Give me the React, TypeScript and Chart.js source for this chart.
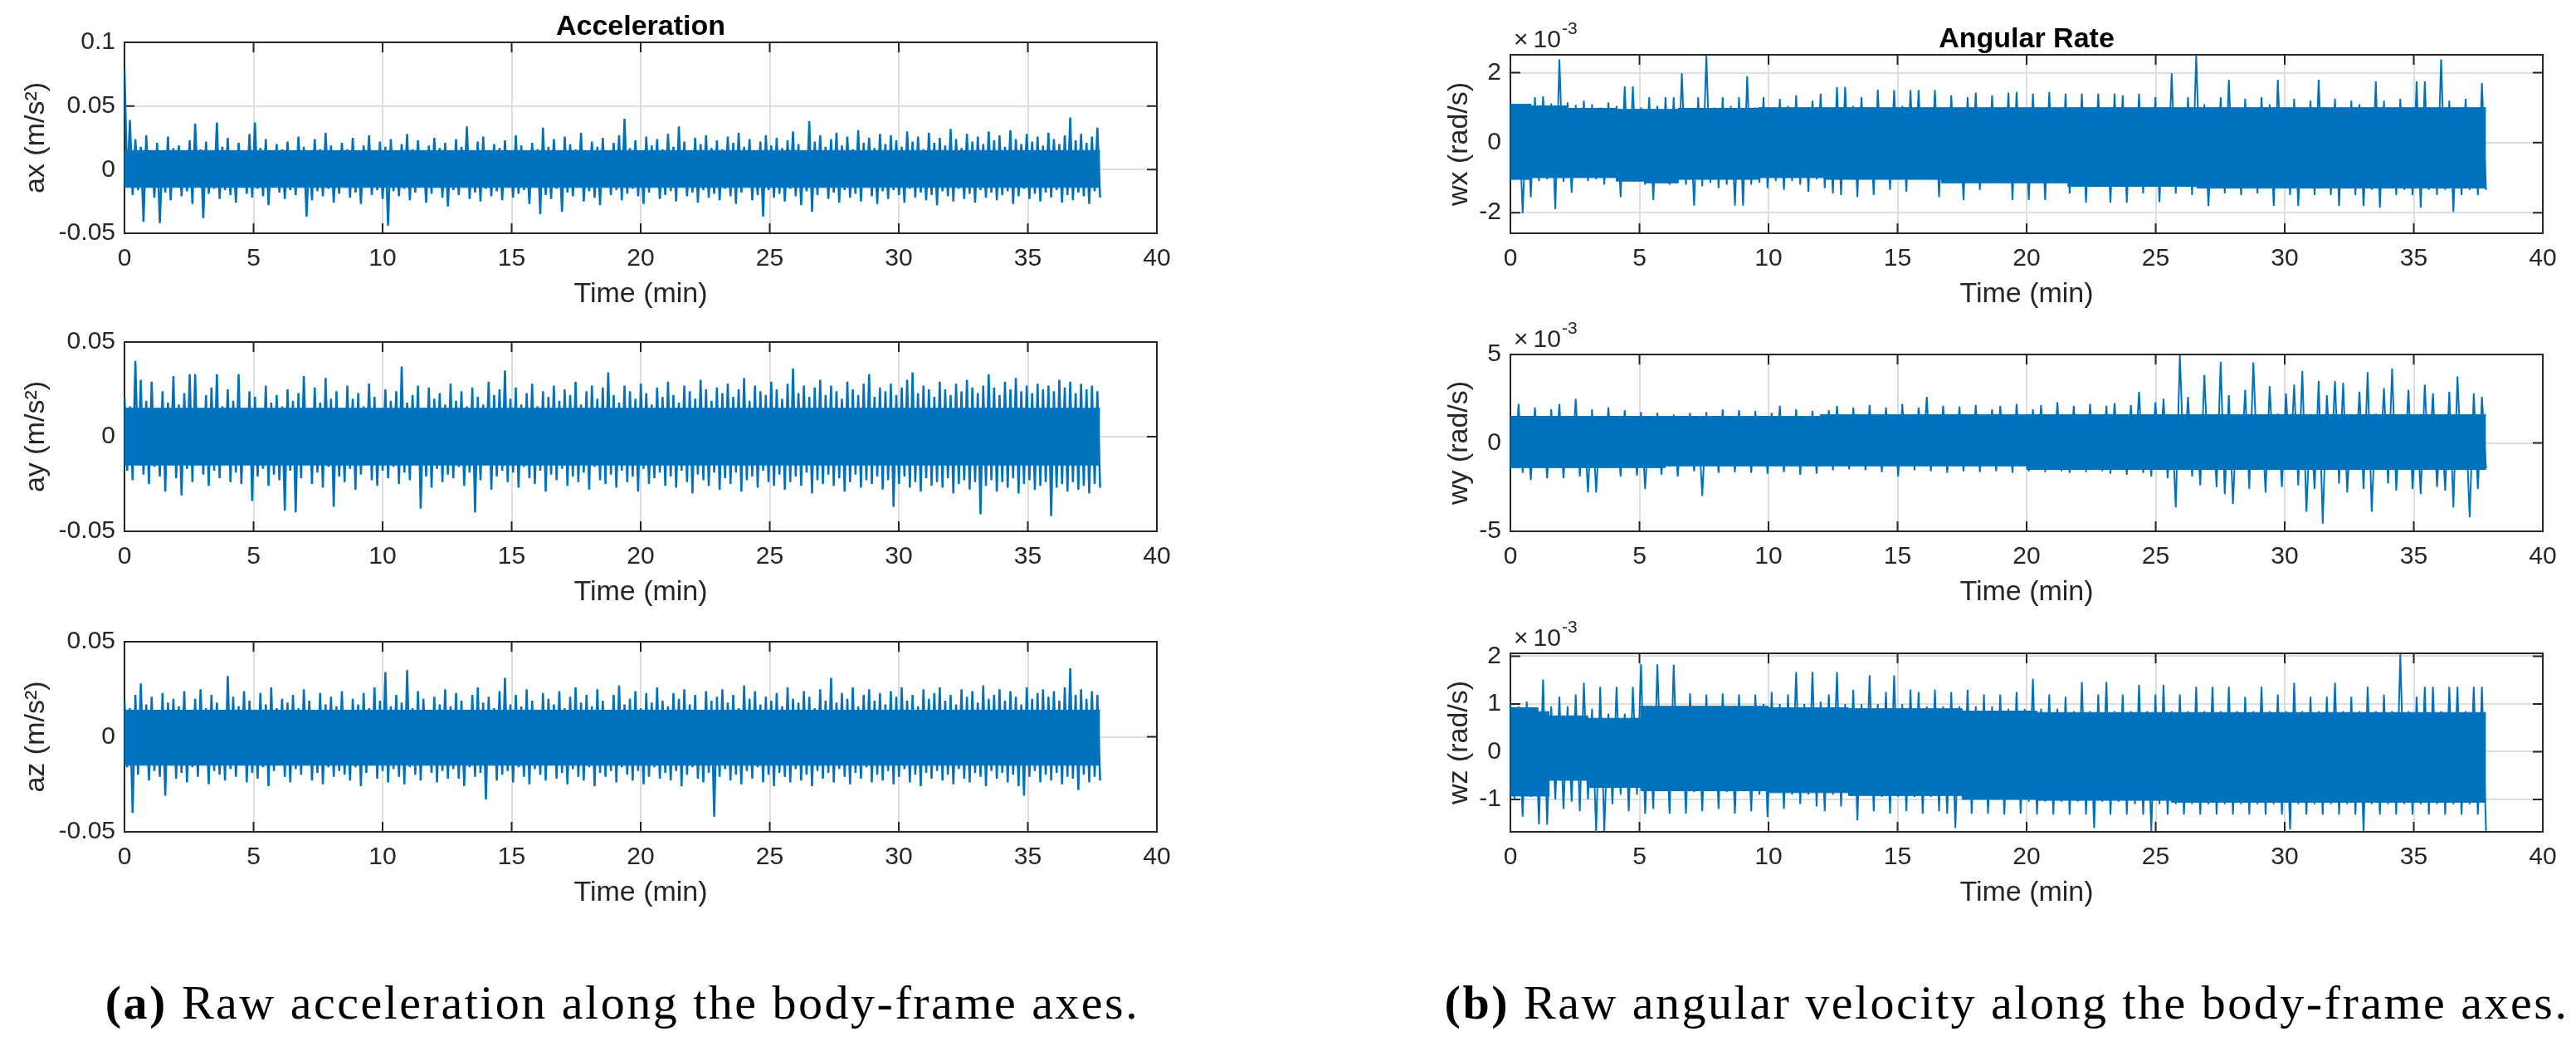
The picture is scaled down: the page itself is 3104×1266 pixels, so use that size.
import React, { useEffect, useRef } from "react";
import { Chart, registerables } from "chart.js";

Chart.register(...registerables);

// ---------------- data ----------------
const X_TICKS = [0, 5, 10, 15, 20, 25, 30, 35, 40];
const T_END = 37.8; // time of the last sample (min)

// Acceleration (m/s^2)
const AX_RANGE = [-0.05, 0.1];
const AX_TICKS = [-0.05, 0, 0.05, 0.1];
const AY_RANGE = [-0.05, 0.05];
const AY_TICKS = [-0.05, 0, 0.05];
const AZ_RANGE = [-0.05, 0.05];
const AZ_TICKS = [-0.05, 0, 0.05];

// dense band of the signal (m/s^2)
const ACC_CORE_T = [0, 37.8];
const AX_CORE_HI = [0.015, 0.015];
const AX_CORE_LO = [-0.014, -0.014];
const AY_CORE_HI = [0.015, 0.015];
const AY_CORE_LO = [-0.015, -0.015];
const AZ_CORE_HI = [0.014, 0.014];
const AZ_CORE_LO = [-0.015, -0.015];

// alternating local maxima / minima of the signal
const AX_PEAKS = [
  0.079, -0.011, 0.039, -0.02, 0.024, -0.016, 0.018, -0.041, 0.027, -0.013, 0.015, -0.022, 0.021, -0.042, 0.013, -0.018, 0.026, -0.024, 0.017, -0.014,
  0.019, -0.021, 0.014, -0.017, 0.023, -0.027, 0.036, -0.012, 0.016, -0.038, 0.022, -0.019, 0.012, -0.015, 0.037, -0.023, 0.018, -0.016, 0.025, -0.02,
  0.015, -0.026, 0.021, -0.013, 0.013, -0.019, 0.028, -0.022, 0.037, -0.015, 0.017, -0.021, 0.024, -0.028, 0.012, -0.014, 0.02, -0.018, 0.016, -0.023,
  0.022, -0.016, 0.014, -0.02, 0.026, -0.012, 0.018, -0.037, 0.013, -0.024, 0.024, -0.017, 0.016, -0.021, 0.029, -0.015, 0.019, -0.026, 0.012, -0.019,
  0.021, -0.014, 0.016, -0.022, 0.025, -0.018, 0.013, -0.027, 0.019, -0.013, 0.027, -0.02, 0.015, -0.016, 0.022, -0.023, 0.018, -0.044, 0.024, -0.017,
  0.014, -0.021, 0.02, -0.015, 0.028, -0.024, 0.016, -0.018, 0.023, -0.012, 0.012, -0.026, 0.019, -0.019, 0.025, -0.014, 0.017, -0.022, 0.021, -0.029,
  0.013, -0.016, 0.024, -0.02, 0.018, -0.013, 0.034, -0.023, 0.015, -0.018, 0.022, -0.025, 0.026, -0.015, 0.014, -0.021, 0.02, -0.017, 0.017, -0.024,
  0.023, -0.014, 0.015, -0.022, 0.027, -0.019, 0.019, -0.016, 0.013, -0.027, 0.021, -0.013, 0.016, -0.035, 0.033, -0.02, 0.018, -0.023, 0.024, -0.015,
  0.014, -0.033, 0.026, -0.018, 0.02, -0.021, 0.016, -0.014, 0.029, -0.025, 0.013, -0.017, 0.022, -0.022, 0.018, -0.028, 0.025, -0.013, 0.015, -0.02,
  0.021, -0.016, 0.027, -0.024, 0.04, -0.019, 0.017, -0.015, 0.023, -0.021, 0.014, -0.027, 0.026, -0.018, 0.019, -0.013, 0.024, -0.023, 0.016, -0.02,
  0.028, -0.017, 0.018, -0.025, 0.034, -0.014, 0.022, -0.021, 0.015, -0.018, 0.025, -0.026, 0.02, -0.016, 0.027, -0.022, 0.017, -0.019, 0.023, -0.024,
  0.016, -0.015, 0.026, -0.021, 0.021, -0.027, 0.029, -0.018, 0.018, -0.013, 0.024, -0.024, 0.014, -0.02, 0.022, -0.037, 0.027, -0.016, 0.019, -0.022,
  0.025, -0.019, 0.017, -0.025, 0.023, -0.015, 0.03, -0.021, 0.02, -0.028, 0.015, -0.017, 0.038, -0.033, 0.022, -0.02, 0.027, -0.014, 0.018, -0.023,
  0.024, -0.018, 0.029, -0.026, 0.019, -0.016, 0.026, -0.022, 0.016, -0.019, 0.031, -0.025, 0.021, -0.014, 0.025, -0.021, 0.017, -0.027, 0.028, -0.017,
  0.02, -0.023, 0.027, -0.016, 0.023, -0.02, 0.018, -0.026, 0.03, -0.015, 0.022, -0.022, 0.026, -0.018, 0.016, -0.024, 0.029, -0.02, 0.021, -0.028,
  0.025, -0.017, 0.019, -0.021, 0.032, -0.025, 0.024, -0.015, 0.017, -0.023, 0.028, -0.019, 0.022, -0.026, 0.026, -0.016, 0.02, -0.022, 0.03, -0.018,
  0.023, -0.024, 0.027, -0.02, 0.018, -0.017, 0.031, -0.027, 0.024, -0.021, 0.02, -0.015, 0.028, -0.023, 0.022, -0.019, 0.026, -0.025, 0.019, -0.018,
  0.029, -0.022, 0.024, -0.016, 0.02, -0.026, 0.027, -0.02, 0.041, -0.024, 0.023, -0.018, 0.028, -0.021, 0.021, -0.027, 0.026, -0.017, 0.033, -0.022,
];

const AY_PEAKS = [
  0.021, -0.018, 0.016, -0.023, 0.04, -0.014, 0.03, -0.02, 0.019, -0.025, 0.029, -0.016, 0.015, -0.021, 0.024, -0.029, 0.018, -0.015, 0.032, -0.022,
  0.017, -0.031, 0.023, -0.017, 0.033, -0.024, 0.033, -0.013, 0.014, -0.02, 0.022, -0.026, 0.026, -0.018, 0.033, -0.022, 0.016, -0.015, 0.025, -0.024,
  0.019, -0.019, 0.033, -0.025, 0.015, -0.014, 0.024, -0.034, 0.021, -0.021, 0.013, -0.017, 0.027, -0.026, 0.018, -0.02, 0.022, -0.023, 0.016, -0.039,
  0.025, -0.018, 0.019, -0.04, 0.023, -0.022, 0.032, -0.015, 0.014, -0.025, 0.026, -0.019, 0.018, -0.027, 0.031, -0.016, 0.02, -0.037, 0.024, -0.021,
  0.015, -0.024, 0.027, -0.017, 0.02, -0.028, 0.023, -0.02, 0.016, -0.014, 0.028, -0.023, 0.021, -0.026, 0.013, -0.018, 0.025, -0.022, 0.019, -0.016,
  0.024, -0.025, 0.037, -0.019, 0.018, -0.023, 0.022, -0.015, 0.027, -0.038, 0.015, -0.021, 0.026, -0.027, 0.02, -0.017, 0.023, -0.024, 0.017, -0.02,
  0.028, -0.022, 0.019, -0.016, 0.024, -0.026, 0.016, -0.019, 0.026, -0.04, 0.021, -0.023, 0.017, -0.015, 0.029, -0.028, 0.022, -0.021, 0.025, -0.018,
  0.035, -0.024, 0.02, -0.019, 0.026, -0.027, 0.017, -0.016, 0.023, -0.022, 0.028, -0.025, 0.016, -0.018, 0.024, -0.029, 0.021, -0.02, 0.027, -0.023,
  0.019, -0.017, 0.025, -0.026, 0.022, -0.021, 0.029, -0.024, 0.017, -0.019, 0.024, -0.028, 0.027, -0.016, 0.02, -0.023, 0.026, -0.025, 0.034, -0.02,
  0.022, -0.027, 0.018, -0.018, 0.027, -0.024, 0.024, -0.021, 0.02, -0.029, 0.028, -0.017, 0.023, -0.025, 0.017, -0.022, 0.026, -0.019, 0.021, -0.026,
  0.029, -0.021, 0.022, -0.027, 0.018, -0.018, 0.027, -0.024, 0.024, -0.03, 0.02, -0.02, 0.03, -0.023, 0.025, -0.026, 0.019, -0.019, 0.026, -0.028,
  0.023, -0.022, 0.028, -0.025, 0.021, -0.019, 0.025, -0.029, 0.031, -0.023, 0.019, -0.021, 0.027, -0.027, 0.024, -0.018, 0.022, -0.024, 0.029, -0.026,
  0.025, -0.02, 0.02, -0.028, 0.028, -0.024, 0.036, -0.021, 0.023, -0.026, 0.027, -0.019, 0.021, -0.03, 0.026, -0.023, 0.03, -0.025, 0.022, -0.02,
  0.027, -0.026, 0.024, -0.022, 0.02, -0.029, 0.029, -0.024, 0.025, -0.02, 0.022, -0.027, 0.028, -0.023, 0.033, -0.025, 0.021, -0.021, 0.026, -0.028,
  0.024, -0.023, 0.028, -0.037, 0.022, -0.025, 0.026, -0.021, 0.03, -0.027, 0.034, -0.024, 0.023, -0.029, 0.027, -0.022, 0.025, -0.026, 0.021, -0.024,
  0.029, -0.027, 0.025, -0.022, 0.022, -0.03, 0.028, -0.025, 0.024, -0.023, 0.03, -0.028, 0.026, -0.024, 0.023, -0.041, 0.027, -0.026, 0.033, -0.023,
  0.026, -0.029, 0.022, -0.024, 0.029, -0.027, 0.025, -0.022, 0.031, -0.03, 0.024, -0.025, 0.027, -0.023, 0.023, -0.028, 0.028, -0.026, 0.025, -0.024,
  0.027, -0.042, 0.024, -0.027, 0.03, -0.025, 0.026, -0.029, 0.029, -0.024, 0.023, -0.028, 0.028, -0.026, 0.025, -0.03, 0.027, -0.025, 0.024, -0.027,
];

const AZ_PEAKS = [
  0.019, -0.016, 0.015, -0.04, 0.022, -0.02, 0.028, -0.014, 0.017, -0.023, 0.021, -0.018, 0.014, -0.021, 0.023, -0.031, 0.018, -0.015, 0.02, -0.022,
  0.016, -0.019, 0.024, -0.024, 0.013, -0.016, 0.02, -0.021, 0.025, -0.014, 0.015, -0.025, 0.022, -0.018, 0.018, -0.02, 0.014, -0.023, 0.032, -0.017,
  0.021, -0.021, 0.016, -0.015, 0.024, -0.024, 0.019, -0.019, 0.014, -0.022, 0.023, -0.016, 0.017, -0.026, 0.026, -0.018, 0.015, -0.014, 0.02, -0.021,
  0.018, -0.024, 0.022, -0.017, 0.015, -0.02, 0.025, -0.015, 0.019, -0.023, 0.013, -0.019, 0.023, -0.025, 0.017, -0.016, 0.021, -0.021, 0.016, -0.018,
  0.024, -0.02, 0.014, -0.023, 0.02, -0.016, 0.017, -0.026, 0.023, -0.019, 0.015, -0.015, 0.026, -0.022, 0.019, -0.018, 0.034, -0.024, 0.016, -0.017,
  0.022, -0.021, 0.018, -0.025, 0.035, -0.016, 0.015, -0.02, 0.024, -0.023, 0.02, -0.015, 0.013, -0.019, 0.021, -0.024, 0.017, -0.018, 0.025, -0.022,
  0.016, -0.017, 0.023, -0.022, 0.019, -0.026, 0.014, -0.016, 0.022, -0.021, 0.026, -0.019, 0.018, -0.033, 0.021, -0.015, 0.015, -0.023, 0.024, -0.02,
  0.031, -0.018, 0.017, -0.024, 0.022, -0.016, 0.016, -0.021, 0.025, -0.025, 0.019, -0.017, 0.014, -0.02, 0.023, -0.023, 0.02, -0.015, 0.017, -0.022,
  0.024, -0.019, 0.015, -0.025, 0.021, -0.017, 0.026, -0.021, 0.018, -0.023, 0.022, -0.016, 0.016, -0.026, 0.025, -0.019, 0.019, -0.021, 0.014, -0.018,
  0.022, -0.024, 0.027, -0.016, 0.017, -0.02, 0.02, -0.023, 0.024, -0.018, 0.015, -0.025, 0.023, -0.021, 0.018, -0.016, 0.026, -0.022, 0.019, -0.019,
  0.016, -0.023, 0.023, -0.018, 0.02, -0.026, 0.025, -0.02, 0.017, -0.016, 0.022, -0.022, 0.014, -0.024, 0.024, -0.019, 0.019, -0.042, 0.021, -0.021,
  0.025, -0.017, 0.018, -0.023, 0.022, -0.02, 0.015, -0.025, 0.027, -0.018, 0.02, -0.022, 0.024, -0.016, 0.017, -0.024, 0.021, -0.02, 0.019, -0.026,
  0.023, -0.019, 0.016, -0.021, 0.026, -0.024, 0.02, -0.017, 0.018, -0.023, 0.024, -0.02, 0.021, -0.026, 0.015, -0.018, 0.025, -0.022, 0.019, -0.019,
  0.031, -0.024, 0.018, -0.017, 0.023, -0.021, 0.02, -0.025, 0.026, -0.019, 0.016, -0.022, 0.022, -0.016, 0.025, -0.024, 0.019, -0.02, 0.023, -0.023,
  0.017, -0.018, 0.024, -0.025, 0.021, -0.021, 0.026, -0.017, 0.019, -0.024, 0.022, -0.02, 0.016, -0.026, 0.025, -0.019, 0.02, -0.022, 0.023, -0.018,
  0.026, -0.023, 0.019, -0.02, 0.022, -0.025, 0.017, -0.017, 0.025, -0.022, 0.021, -0.024, 0.024, -0.019, 0.018, -0.021, 0.027, -0.026, 0.02, -0.018,
  0.022, -0.022, 0.025, -0.019, 0.019, -0.024, 0.024, -0.02, 0.021, -0.026, 0.017, -0.031, 0.026, -0.021, 0.02, -0.018, 0.023, -0.024, 0.025, -0.02,
  0.021, -0.023, 0.024, -0.019, 0.019, -0.025, 0.026, -0.021, 0.036, -0.022, 0.022, -0.028, 0.025, -0.02, 0.02, -0.024, 0.024, -0.021, 0.022, -0.023,
];

// Angular rate (x 10^-3 rad/s)
const WX_RANGE = [-2.59, 2.51];
const WX_TICKS = [-2, 0, 2];
const WY_RANGE = [-5, 5];
const WY_TICKS = [-5, 0, 5];
const WZ_RANGE = [-1.68, 2.06];
const WZ_TICKS = [-1, 0, 1, 2];

const WX_CORE_T = [0, 0.8, 2.2, 4.1, 5.2, 6.5, 9.6, 12.2, 16.7, 21.6, 26.6, 31.2, 37.8];
const WX_CORE_HI = [0.99, 1.1, 1.05, 0.98, 0.95, 0.95, 0.98, 1.0, 1.0, 1.0, 1.0, 1.0, 1.0];
const WX_CORE_LO = [-0.85, -1.05, -1.0, -1.0, -1.1, -1.15, -1.05, -1.0, -1.05, -1.15, -1.25, -1.3, -1.3];

const WY_CORE_T = [0, 6, 12, 20, 25, 37.8];
const WY_CORE_HI = [1.4, 1.5, 1.5, 1.6, 1.6, 1.6];
const WY_CORE_LO = [-1.5, -1.4, -1.3, -1.3, -1.5, -1.5];

const WZ_CORE_T = [0, 1.07, 1.5, 3.0, 5.05, 10, 13.1, 17.5, 20.4, 25.6, 27.5, 37.8];
const WZ_CORE_HI = [0.6, 0.92, 0.84, 0.75, 0.7, 0.95, 0.92, 0.9, 0.85, 0.82, 0.82, 0.82];
const WZ_CORE_LO = [-0.8, -0.93, -0.93, -0.6, -0.75, -0.82, -0.86, -0.92, -1.0, -1.02, -1.06, -1.06];

const WX_PEAKS = [
  1.0, -1.0, 1.05, -2.02, 0.98, -1.56, 1.3, -1.1, 1.32, -1.05, 1.12, -1.9, 2.38, -1.12, 1.15, -1.43, 1.08, -1.0, 1.2, -1.1,
  1.1, -1.05, 1.0, -1.2, 1.15, -1.0, 1.05, -1.56, 1.61, -1.1, 1.61, -1.05, 1.0, -1.2, 1.3, -1.64, 1.05, -1.12, 1.3, -1.2,
  1.3, -1.15, 1.98, -1.2, 0.95, -1.8, 1.3, -1.25, 2.5, -1.15, 1.0, -1.3, 1.3, -1.2, 1.05, -1.8, 1.3, -1.8, 1.9, -1.2,
  1.0, -1.15, 1.3, -1.3, 0.98, -1.1, 1.25, -1.35, 1.05, -1.1, 1.35, -1.2, 1.0, -1.4, 1.2, -1.05, 1.4, -1.3, 1.0, -1.45,
  1.59, -1.5, 1.59, -1.0, 1.05, -1.55, 1.3, -1.0, 1.0, -1.5, 1.51, -1.05, 1.0, -1.35, 1.5, -1.0, 1.05, -1.4, 1.5, -1.0,
  1.5, -1.05, 1.0, -1.0, 1.5, -1.56, 0.98, -1.1, 1.35, -1.05, 1.0, -1.64, 1.3, -1.05, 1.43, -1.35, 1.0, -1.1, 1.35, -1.05,
  0.95, -1.1, 1.43, -1.64, 1.45, -1.1, 1.0, -1.64, 1.4, -1.05, 0.95, -1.64, 1.45, -1.15, 1.0, -1.1, 1.4, -1.45, 0.95, -1.1,
  1.4, -1.72, 0.9, -1.15, 1.4, -1.1, 0.95, -1.72, 1.4, -1.2, 1.35, -1.72, 0.9, -1.15, 1.4, -1.45, 0.95, -1.15, 1.3, -1.7,
  0.95, -1.2, 1.98, -1.45, 0.85, -1.2, 1.3, -1.5, 2.5, -1.2, 1.1, -1.81, 0.85, -1.25, 1.3, -1.45, 1.8, -1.25, 0.9, -1.5,
  1.25, -1.25, 0.85, -1.45, 1.3, -1.25, 1.1, -1.81, 1.8, -1.25, 0.85, -1.5, 1.25, -1.81, 0.9, -1.3, 1.2, -1.5, 1.8, -1.3,
  0.8, -1.5, 1.25, -1.81, 0.85, -1.3, 1.2, -1.5, 1.1, -1.81, 0.8, -1.35, 1.75, -1.86, 1.2, -1.3, 0.85, -1.5, 1.25, -1.35,
  0.85, -1.5, 1.75, -1.86, 1.75, -1.35, 0.8, -1.5, 2.38, -1.35, 1.2, -1.98, 0.85, -1.5, 1.25, -1.35, 0.8, -1.5, 1.7, -1.35,
];

const WY_PEAKS = [
  1.3, -1.35, 2.2, -1.7, 1.4, -2.1, 2.0, -1.3, 1.25, -2.0, 1.9, -1.4, 2.2, -2.0, 1.35, -1.3, 2.5, -1.9, 1.4, -2.8,
  1.9, -2.8, 1.3, -1.4, 2.0, -1.3, 1.35, -1.9, 1.85, -1.35, 1.25, -1.85, 1.75, -2.6, 1.4, -1.3, 1.7, -1.8, 1.3, -1.35,
  1.6, -1.9, 1.3, -1.25, 1.7, -1.6, 1.4, -3.0, 1.75, -1.3, 1.3, -1.7, 1.9, -1.25, 1.35, -1.65, 1.85, -1.2, 1.4, -1.7,
  1.8, -1.15, 1.4, -1.75, 1.7, -1.2, 2.1, -1.65, 1.45, -1.15, 1.9, -1.8, 1.4, -1.1, 1.8, -1.75, 1.45, -1.2, 1.85, -1.55,
  2.1, -1.1, 1.45, -1.5, 2.0, -1.15, 1.5, -1.55, 2.15, -1.1, 1.45, -1.65, 2.0, -1.1, 1.5, -1.9, 2.2, -1.15, 1.45, -1.55,
  2.0, -1.1, 2.6, -1.6, 1.5, -1.1, 2.1, -1.7, 1.45, -1.1, 2.05, -1.6, 1.5, -1.15, 2.15, -1.65, 1.45, -1.1, 1.9, -1.6,
  2.1, -1.15, 1.5, -1.7, 2.2, -1.15, 1.5, -1.6, 1.9, -1.15, 2.15, -1.65, 1.5, -1.15, 2.3, -1.6, 1.5, -1.7, 2.1, -1.15,
  1.5, -1.65, 2.2, -1.15, 1.5, -1.6, 2.1, -1.75, 2.25, -1.2, 1.55, -1.8, 2.15, -1.2, 2.9, -1.7, 1.55, -1.9, 2.3, -1.2,
  2.5, -2.0, 1.6, -3.65, 4.96, -1.4, 2.6, -1.9, 1.6, -2.4, 3.85, -1.45, 1.6, -2.5, 4.59, -2.9, 2.7, -3.45, 1.6, -1.5,
  3.0, -2.6, 4.55, -1.45, 1.6, -2.8, 3.2, -1.5, 1.65, -2.5, 2.8, -1.5, 3.3, -2.4, 4.07, -3.9, 1.6, -2.6, 3.5, -4.57,
  2.7, -1.5, 3.5, -2.3, 3.4, -2.8, 1.6, -1.5, 2.9, -2.6, 4.0, -3.9, 1.65, -1.5, 3.1, -2.3, 4.2, -2.7, 1.6, -1.5,
  3.0, -2.6, 1.6, -2.9, 3.3, -1.5, 2.8, -2.5, 1.6, -2.7, 2.9, -3.65, 3.76, -1.5, 1.6, -4.2, 2.8, -2.6, 2.6, -1.45,
];

const WZ_PEAKS = [
  1.0, -1.0, 0.95, -1.36, 1.05, -0.95, 0.9, -1.52, 1.51, -1.53, 0.95, -1.0, 1.15, -1.2, 0.95, -1.05, 1.2, -1.25, 1.44, -1.0,
  0.9, -1.68, 1.36, -1.66, 0.8, -1.1, 1.36, -0.9, 0.8, -1.25, 1.36, -0.9, 1.83, -1.3, 0.7, -1.2, 1.83, -0.8, 0.7, -1.3,
  1.82, -0.8, 0.7, -1.3, 1.22, -0.85, 0.7, -1.25, 1.2, -0.8, 0.75, -1.2, 1.22, -0.85, 0.7, -1.3, 1.2, -0.8, 0.75, -1.25,
  1.2, -0.9, 1.0, -1.37, 1.25, -0.85, 1.0, -1.2, 1.2, -0.9, 1.67, -1.1, 1.0, -0.9, 1.67, -1.15, 1.05, -1.25, 1.2, -0.9,
  1.67, -1.15, 1.0, -0.9, 1.3, -1.44, 1.0, -0.9, 1.6, -1.25, 1.0, -0.95, 1.25, -1.3, 1.6, -0.95, 1.0, -1.25, 1.3, -0.95,
  1.25, -1.3, 0.95, -0.95, 1.3, -1.25, 0.95, -1.3, 1.25, -1.6, 0.95, -0.95, 1.3, -1.3, 0.95, -1.0, 1.2, -1.3, 0.95, -1.0,
  1.2, -1.32, 0.9, -1.0, 1.25, -1.3, 0.9, -1.05, 1.53, -1.32, 0.9, -1.05, 1.2, -1.32, 0.9, -1.05, 1.15, -1.32, 0.85, -1.05,
  1.46, -1.32, 0.85, -1.6, 1.2, -1.05, 1.46, -1.32, 0.85, -1.05, 1.2, -1.32, 0.85, -1.1, 1.4, -1.32, 0.85, -1.66, 1.2, -1.1,
  1.4, -1.32, 0.85, -1.1, 1.2, -1.32, 0.85, -1.1, 1.36, -1.32, 0.85, -1.1, 1.36, -1.32, 0.85, -1.1, 1.36, -1.32, 0.85, -1.1,
  1.15, -1.32, 0.85, -1.1, 1.36, -1.32, 0.85, -1.1, 1.2, -1.32, 0.85, -1.63, 1.44, -1.1, 0.85, -1.32, 1.15, -1.1, 0.85, -1.32,
  1.15, -1.1, 1.44, -1.32, 0.85, -1.1, 1.15, -1.32, 0.85, -1.66, 1.36, -1.1, 0.85, -1.32, 1.2, -1.1, 0.85, -1.32, 2.05, -1.1,
  0.85, -1.32, 1.15, -1.1, 1.36, -1.32, 1.36, -1.1, 0.85, -1.32, 1.36, -1.1, 1.36, -1.32, 0.85, -1.1, 1.36, -1.32, 1.36, -1.66,
];

// ---------------- styling / layout ----------------
const FONT = "'Liberation Sans', Arial, Helvetica, sans-serif";
const SERIF = "'Liberation Serif', 'Times New Roman', serif";
const BLUE = "#0072BD";
const AXIS = "#262626";
const GRID = "#dedede";
const TICK_LEN = 12;

const ML = 150;
const MR = 40;
const MT = 50;
const MB = 115;
const PLOT_W = 1244;

type PanelCfg = {
  left: number;
  top: number;
  height: number;
  yLabel: string;
  yTitlePad: number;
  range: number[];
  ticks: number[];
  coreT: number[];
  coreHi: number[];
  coreLo: number[];
  peaks: number[];
  lineWidth: number;
  title?: string;
  exponent?: string;
};

const PANELS: PanelCfg[] = [
  { left: 150, top: 51, height: 230, yLabel: "ax (m/s²)", yTitlePad: 23, range: AX_RANGE, ticks: AX_TICKS, coreT: ACC_CORE_T, coreHi: AX_CORE_HI, coreLo: AX_CORE_LO, peaks: AX_PEAKS, lineWidth: 2.5, title: "Acceleration" },
  { left: 150, top: 412, height: 228, yLabel: "ay (m/s²)", yTitlePad: 23, range: AY_RANGE, ticks: AY_TICKS, coreT: ACC_CORE_T, coreHi: AY_CORE_HI, coreLo: AY_CORE_LO, peaks: AY_PEAKS, lineWidth: 2.5 },
  { left: 150, top: 773, height: 229, yLabel: "az (m/s²)", yTitlePad: 23, range: AZ_RANGE, ticks: AZ_TICKS, coreT: ACC_CORE_T, coreHi: AZ_CORE_HI, coreLo: AZ_CORE_LO, peaks: AZ_PEAKS, lineWidth: 2.5 },
  { left: 1820, top: 66, height: 215, yLabel: "wx (rad/s)", yTitlePad: 68, range: WX_RANGE, ticks: WX_TICKS, coreT: WX_CORE_T, coreHi: WX_CORE_HI, coreLo: WX_CORE_LO, peaks: WX_PEAKS, lineWidth: 2, title: "Angular Rate", exponent: "-3" },
  { left: 1820, top: 427, height: 213, yLabel: "wy (rad/s)", yTitlePad: 68, range: WY_RANGE, ticks: WY_TICKS, coreT: WY_CORE_T, coreHi: WY_CORE_HI, coreLo: WY_CORE_LO, peaks: WY_PEAKS, lineWidth: 2, exponent: "-3" },
  { left: 1820, top: 787, height: 215, yLabel: "wz (rad/s)", yTitlePad: 68, range: WZ_RANGE, ticks: WZ_TICKS, coreT: WZ_CORE_T, coreHi: WZ_CORE_HI, coreLo: WZ_CORE_LO, peaks: WZ_PEAKS, lineWidth: 2, exponent: "-3" },
];

const decorPlugin = {
  id: "decor",
  beforeDatasetsDraw(chart: any) {
    const { ctx, chartArea: a, scales } = chart;
    ctx.save();
    ctx.strokeStyle = AXIS;
    ctx.lineWidth = 2;
    ctx.beginPath();
    for (const t of scales.x.ticks) {
      const px = scales.x.getPixelForValue(t.value);
      ctx.moveTo(px, a.bottom);
      ctx.lineTo(px, a.bottom - TICK_LEN);
      ctx.moveTo(px, a.top);
      ctx.lineTo(px, a.top + TICK_LEN);
    }
    for (const t of scales.y.ticks) {
      const py = scales.y.getPixelForValue(t.value);
      ctx.moveTo(a.left, py);
      ctx.lineTo(a.left + TICK_LEN, py);
      ctx.moveTo(a.right, py);
      ctx.lineTo(a.right - TICK_LEN, py);
    }
    ctx.stroke();
    ctx.strokeRect(a.left, a.top, a.right - a.left, a.bottom - a.top);
    ctx.restore();
  },
  afterDraw(chart: any, _args: any, opts: any) {
    const { ctx, chartArea: a } = chart;
    ctx.save();
    if (opts && opts.title) {
      ctx.font = `bold 34px ${FONT}`;
      ctx.fillStyle = "#000";
      ctx.textAlign = "center";
      ctx.textBaseline = "alphabetic";
      ctx.fillText(opts.title, (a.left + a.right) / 2, a.top - 9.5);
    }
    if (opts && opts.exponent) {
      ctx.fillStyle = AXIS;
      ctx.textAlign = "left";
      ctx.textBaseline = "alphabetic";
      ctx.font = `30px ${FONT}`;
      const x0 = a.left + 4;
      const base = a.top - 9;
      ctx.fillText("×", x0, base);
      const wX = ctx.measureText("×").width;
      ctx.fillText("10", x0 + wX + 6, base);
      const w10 = ctx.measureText("10").width;
      ctx.font = `21px ${FONT}`;
      ctx.fillText(opts.exponent, x0 + wX + 6 + w10 + 1, base - 16);
    }
    ctx.restore();
  },
};

function Panel({ cfg }: { cfg: PanelCfg }) {
  const ref = useRef<HTMLCanvasElement>(null);
  const W = ML + PLOT_W + MR;
  const H = MT + cfg.height + MB;

  useEffect(() => {
    const canvas = ref.current;
    if (!canvas) return;
    const n = cfg.peaks.length;
    const chart = new Chart(canvas, {
      type: "line",
      data: {
        datasets: [
          {
            data: cfg.coreT.map((t, i) => ({ x: t, y: cfg.coreHi[i] })),
            stepped: "after",
            fill: "+1",
            backgroundColor: BLUE,
            borderColor: BLUE,
            borderWidth: 1,
            pointRadius: 0,
          },
          {
            data: cfg.coreT.map((t, i) => ({ x: t, y: cfg.coreLo[i] })),
            stepped: "after",
            fill: false,
            borderColor: BLUE,
            borderWidth: 1,
            pointRadius: 0,
          },
          {
            data: cfg.peaks.map((v, i) => ({ x: (i * T_END) / (n - 1), y: v })),
            fill: false,
            borderColor: BLUE,
            borderWidth: cfg.lineWidth,
            borderJoinStyle: "bevel",
            pointRadius: 0,
            tension: 0,
          },
        ] as any,
      },
      options: {
        responsive: false,
        animation: false,
        devicePixelRatio: 1,
        events: [],
        layout: { padding: { left: 0, top: MT, right: MR, bottom: 0 } },
        plugins: {
          legend: { display: false },
          tooltip: { enabled: false },
          decor: { title: cfg.title, exponent: cfg.exponent },
        } as any,
        scales: {
          x: {
            type: "linear",
            min: 0,
            max: 40,
            afterBuildTicks: (s: any) => {
              s.ticks = X_TICKS.map((v) => ({ value: v }));
            },
            afterFit: (s: any) => {
              s.height = MB;
            },
            ticks: {
              autoSkip: false,
              maxRotation: 0,
              padding: 13,
              color: AXIS,
              font: { family: FONT, size: 30 },
              callback: (v: any) => String(v),
            },
            grid: { color: GRID, lineWidth: 2, drawTicks: false },
            border: { display: false },
            title: {
              display: true,
              text: "Time (min)",
              color: AXIS,
              font: { family: FONT, size: 34 },
              padding: { top: 0, bottom: 21 },
            },
          },
          y: {
            type: "linear",
            min: cfg.range[0],
            max: cfg.range[1],
            afterBuildTicks: (s: any) => {
              s.ticks = cfg.ticks.map((v) => ({ value: v }));
            },
            afterFit: (s: any) => {
              s.width = ML;
            },
            ticks: {
              autoSkip: false,
              padding: 11,
              color: AXIS,
              font: { family: FONT, size: 30 },
              callback: (v: any) => String(v),
            },
            grid: { color: GRID, lineWidth: 2, drawTicks: false },
            border: { display: false },
            title: {
              display: true,
              text: cfg.yLabel,
              color: AXIS,
              font: { family: FONT, size: 34 },
              padding: { top: cfg.yTitlePad, bottom: 0 },
            },
          },
        },
      } as any,
      plugins: [decorPlugin as any],
    });
    return () => chart.destroy();
  }, [cfg]);

  return (
    <canvas
      ref={ref}
      width={W}
      height={H}
      style={{ position: "absolute", left: cfg.left - ML, top: cfg.top - MT, width: W + "px", height: H + "px" }}
    />
  );
}

const captionStyle: React.CSSProperties = {
  position: "absolute",
  top: 1179,
  width: 1500,
  textAlign: "center",
  fontFamily: SERIF,
  fontSize: 58,
  lineHeight: "58px",
  letterSpacing: "2.5px",
  color: "#000",
  whiteSpace: "nowrap",
};

export default function App() {
  return (
    <div style={{ position: "absolute", left: 0, top: 0, width: 3104, height: 1266, background: "#fff", overflow: "hidden" }}>
      {PANELS.map((p, i) => (
        <Panel key={i} cfg={p} />
      ))}
      <div style={{ ...captionStyle, left: 0 }}>
        <b>(a)</b> Raw acceleration along the body-frame axes.
      </div>
      <div style={{ ...captionStyle, left: 1668 }}>
        <b>(b)</b> Raw angular velocity along the body-frame axes.
      </div>
    </div>
  );
}
